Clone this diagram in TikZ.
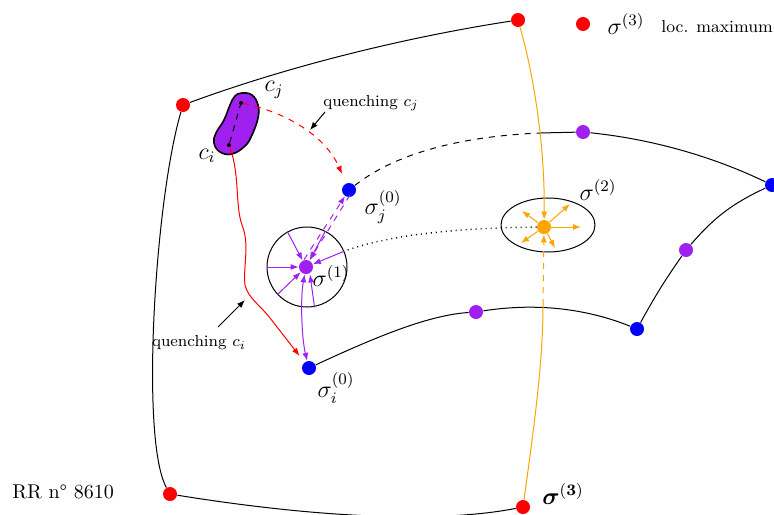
\documentclass[tikz,border=0pt]{standalone}
\usepackage{amsmath}
\usetikzlibrary{arrows.meta,shapes.geometric}
\definecolor{mypurple}{RGB}{160,32,240}
\definecolor{myorange}{RGB}{255,165,0}
\begin{document}
\begin{tikzpicture}[x=0.5pt,y=-0.5pt,
  dot/.style={circle,fill,inner sep=0pt,minimum size=7pt},
  tinydot/.style={circle,fill=black,inner sep=0pt,minimum size=2pt},
  ln/.style={line width=0.5pt},
  tip/.style={-{Latex[length=4pt,width=3pt]}},
  pl/.style={ln,mypurple,tip},
  ol/.style={ln,myorange,tip},
  lbl/.style={font=\large},
  qlbl/.style={font=\footnotesize}]
\useasboundingbox (0,0) rectangle (774,514);

% red maxima
\node[dot,red] (r1) at (183,105) {};
\node[dot,red] (r2) at (518,20) {};
\node[dot,red] (r3) at (170,494) {};
\node[dot,red] (r4) at (523,507) {};
% blue
\node[dot,blue] (sj) at (349,190) {};
\node[dot,blue] (si) at (309,368) {};
\node[dot,blue] (b3) at (637,329) {};
\node[dot,blue] (b4) at (772,185) {};
% purple
\node[dot,mypurple] (ptop) at (583,132) {};
\node[dot,mypurple] (pm) at (476,312) {};
\node[dot,mypurple] (pr) at (686,250) {};
\node[dot,mypurple] (s1) at (306,267) {};
% orange
\node[dot,myorange] (s2) at (544,227) {};

% neighbourhoods
\node[draw,ln,circle,minimum size=40pt,inner sep=0pt] (c1) at (307,267) {};
\node[draw,ln,ellipse,minimum width=47pt,minimum height=27pt,inner sep=0pt] (e2) at (548,225) {};

% outer boundary
\draw[ln] (r1) .. controls (300,62) and (420,35) .. (r2);
\draw[ln] (r1) .. controls (155,200) and (140,440) .. (r3);
\draw[ln] (r3) .. controls (300,515) and (430,525) .. (r4);

% inner curves
\coordinate (tj) at (540,133);
\draw[ln,dashed] (sj) .. controls (400,150) and (470,136) .. (tj);
\draw[ln] (tj) -- (ptop);
\draw[ln] (ptop) .. controls (660,140) and (720,160) .. (b4);
\draw[ln] (b4) to[bend right=12] (pr);
\draw[ln] (pr) to[bend right=3] (b3);
\draw[ln] (si) .. controls (380,335) and (430,315) .. (pm);
\draw[ln] (pm) .. controls (540,302) and (590,310) .. (b3);

% orange
\draw[ol] (r2) .. controls (535,80) and (545,150) .. (s2);
\coordinate (om) at (543,305);
\draw[ln,myorange] (r4) .. controls (535,420) and (543,360) .. (om);
\draw[ol,dashed] (om) -- (s2);
\draw[ol] (s2) -- +(-22,-16);
\draw[ol] (s2) -- +(26,-23);
\draw[ol] (s2) -- +(37,0);
\draw[ol] (s2) -- +(-23,16);
\draw[ol] (s2) -- +(11,21);

% dotted from sigma2 to sigma1
\coordinate (ce) at (c1.23);
\draw[ln,dotted,line width=0.7pt] (s2) .. controls (440,228) and (380,238) .. (ce);
\draw[pl] (ce) -- (s1);
\draw[pl] (c1.119) -- (s1);
\draw[pl] (c1.180) -- (s1);
\draw[pl] (c1.223) -- (s1);
\draw[pl] ([xshift=2pt]c1.275) -- ([xshift=2pt]s1.south);
\draw[pl] (c1.63) -- (s1);
\draw[pl,dashed] ([xshift=-1pt]s1.north) -- (sj);
\draw[pl,dashed] ([xshift=3pt]sj.south west) -- ([xshift=2pt]s1.north);
\draw[ln,mypurple,{Latex[length=4pt,width=3pt]}-{Latex[length=4pt,width=3pt]}] (s1) .. controls (300,300) and (302,340) .. (si);

% blob
\draw[line width=0.8pt,fill=mypurple] plot[smooth cycle,tension=0.7] coordinates {(242,93) (252,95) (258,105) (258,118) (252,135) (245,146) (232,154) (220,152) (214,143) (216,133) (224,120) (230,105) (235,96)};
\node[tinydot] (cj) at (241,103) {};
\node[tinydot] (ci) at (229,145) {};
\draw[ln,dashed] (ci) -- (cj);
\node[lbl] (lcj) at (274,90) {$c_j$};
\node[lbl] (lci) at (207,156) {$c_i$};

% quenching
\draw[ln,red,tip,shorten >=4pt] (ci) .. controls (240,175) and (235,205) .. (242,225)
   .. controls (250,245) and (243,265) .. (245,285)
   .. controls (248,298) and (260,305) .. (270,318) -- (si);
\draw[ln,red,dashed,tip,shorten >=5pt] (cj) .. controls (285,112) and (325,135) .. (sj);
\node[qlbl] (qj) at (371,103) {quenching $c_j$};
\node[qlbl] (qi) at (199,343) {quenching $c_i$};
\coordinate (qja) at (325,112);
\coordinate (qjb) at (310,130);
\coordinate (qia) at (218,327);
\coordinate (qib) at (245,300);
\draw[ln,tip] (qja) -- (qjb);
\draw[ln,tip] (qia) -- (qib);

% labels
\node[lbl] (lsj) at (383,207) {$\sigma_j^{(0)}$};
\node[lbl] (ls1) at (331,276) {$\sigma^{(1)}$};
\node[lbl] (ls2) at (598,190) {$\sigma^{(2)}$};
\node[lbl] (lsi) at (336,388) {$\sigma_i^{(0)}$};
\node[lbl] (ls3) at (563,494) {$\boldsymbol{\sigma}^{(\mathbf{3})}$};

% legend
\node[dot,red] (lg) at (583,24) {};
\node[lbl] (lgs) at (626,24) {$\sigma^{(3)}$};
\node[font=\fontsize{8.6}{10}\selectfont,anchor=west,inner sep=0pt] (lgt) at (661,27) {loc. maximum};
\node[anchor=west,inner sep=0pt] (rr) at (12,492) {RR n\textdegree\ 8610};
\end{tikzpicture}
\end{document}
